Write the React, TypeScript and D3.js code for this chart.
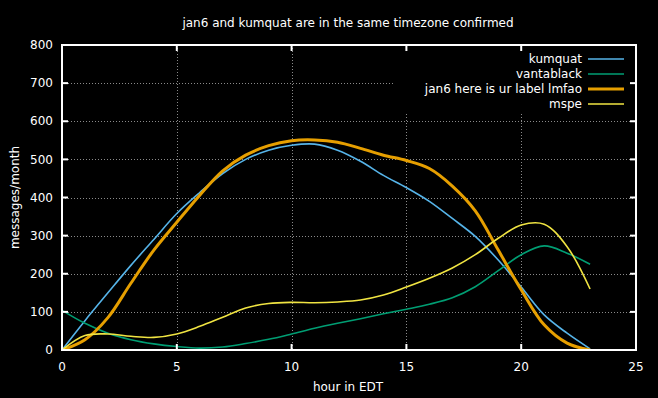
import React from 'react';
import * as d3 from 'd3';

const hours = d3.range(0, 24);

const kumquat = [0, 77, 150, 222, 290, 358, 413, 463, 500, 524, 537, 540, 524, 495, 458, 426, 390, 345, 298, 236, 165, 92, 44, 3];
const vantablack = [104, 70, 44, 27, 16, 9, 5, 8, 17, 28, 42, 57, 70, 82, 95, 107, 120, 137, 166, 208, 250, 273, 254, 225];
const jan6 = [0, 27, 85, 175, 262, 335, 406, 470, 511, 536, 549, 551, 545, 529, 511, 497, 476, 430, 365, 262, 158, 66, 18, 0];
const mspe = [0, 38, 42, 36, 33, 42, 62, 86, 110, 122, 125, 124, 126, 131, 144, 165, 188, 215, 250, 293, 328, 330, 271, 160];

const xTicks = [0, 5, 10, 15, 20, 25];
const yTicks = [0, 100, 200, 300, 400, 500, 600, 700, 800];

const series = [
  { name: 'kumquat', values: kumquat, color: '#56b4e9', width: 1.6 },
  { name: 'vantablack', values: vantablack, color: '#009e73', width: 1.6 },
  { name: 'jan6 here is ur label lmfao', values: jan6, color: '#e69f00', width: 3 },
  { name: 'mspe', values: mspe, color: '#f0e442', width: 1.6 },
];

const W = 658;
const H = 398;
const m = { left: 62, right: 636, top: 45, bottom: 350 };
const font = 'DejaVu Sans, sans-serif';

const App = () => {
  const x = d3.scaleLinear().domain([0, 25]).range([m.left, m.right]);
  const y = d3.scaleLinear().domain([0, 800]).range([m.bottom, m.top]);

  const line = d3
    .line<number>()
    .x((d, i) => x(hours[i]))
    .y((d) => y(d))
    .curve(d3.curveCatmullRom.alpha(0.5));

  return (
    <div style={{ position: 'fixed', left: 0, top: 0, width: W, height: H, background: '#000' }}>
      <svg width={W} height={H} style={{ display: 'block' }} fontFamily={font}>
        <rect width={W} height={H} fill="#000" />
        <defs>
          <clipPath id="plot">
            <rect x={m.left} y={m.top} width={m.right - m.left} height={m.bottom - m.top} />
          </clipPath>
        </defs>

        {/* grid */}
        <g stroke="#8a8a8a" strokeWidth={1} strokeDasharray="1,2">
          {xTicks.slice(1, -1).map((t) => (
            <line key={'gx' + t} x1={Math.round(x(t)) + 0.5} x2={Math.round(x(t)) + 0.5} y1={m.top} y2={m.bottom} />
          ))}
          {yTicks.slice(1, -1).map((t) => (
            <line key={'gy' + t} x1={m.left} x2={m.right} y1={Math.round(y(t)) + 0.5} y2={Math.round(y(t)) + 0.5} />
          ))}
        </g>
        {/* legend area keeps the grid clear */}
        <rect x={393} y={m.top + 1} width={m.right - 394} height={67} fill="#000" />

        {/* data */}
        <g clipPath="url(#plot)" fill="none">
          {series.map((s) => (
            <path key={s.name} d={line(s.values) || ''} stroke={s.color} strokeWidth={s.width} />
          ))}
        </g>

        {/* frame and ticks */}
        <g stroke="#fff" strokeWidth={2}>
          <rect x={m.left} y={m.top} width={m.right - m.left} height={m.bottom - m.top} fill="none" />
          {xTicks.slice(1, -1).map((t) => (
            <g key={'tx' + t}>
              <line x1={x(t)} x2={x(t)} y1={m.bottom} y2={m.bottom - 6} />
              <line x1={x(t)} x2={x(t)} y1={m.top} y2={m.top + 6} />
            </g>
          ))}
          {yTicks.slice(1, -1).map((t) => (
            <g key={'ty' + t}>
              <line x1={m.left} x2={m.left + 6} y1={y(t)} y2={y(t)} />
              <line x1={m.right} x2={m.right - 6} y1={y(t)} y2={y(t)} />
            </g>
          ))}
        </g>

        {/* tick labels */}
        <g fill="#fff" fontSize={12}>
          {yTicks.map((t) => (
            <text key={'ly' + t} x={m.left - 9} y={y(t)} dy="0.35em" textAnchor="end">
              {t}
            </text>
          ))}
          {xTicks.map((t) => (
            <text key={'lx' + t} x={x(t)} y={m.bottom + 17} dy="0.35em" textAnchor="middle">
              {t}
            </text>
          ))}
        </g>

        {/* titles */}
        <g fill="#fff" fontSize={12}>
          <text x={348} y={23} dy="0.35em" textAnchor="middle">
            jan6 and kumquat are in the same timezone confirmed
          </text>
          <text x={348} y={387} dy="0.35em" textAnchor="middle">
            hour in EDT
          </text>
          <text transform={`translate(15,${(m.top + m.bottom) / 2}) rotate(-90)`} dy="0.35em" textAnchor="middle">
            messages/month
          </text>
        </g>

        {/* legend */}
        <g fontSize={12}>
          {series.map((s, i) => (
            <g key={'lg' + s.name} transform={`translate(0,${59 + i * 15})`}>
              <text x={582} dy="0.35em" textAnchor="end" fill="#fff">
                {s.name}
              </text>
              <line x1={588} x2={624} stroke={s.color} strokeWidth={s.width} />
            </g>
          ))}
        </g>
      </svg>
    </div>
  );
};

export default App;
